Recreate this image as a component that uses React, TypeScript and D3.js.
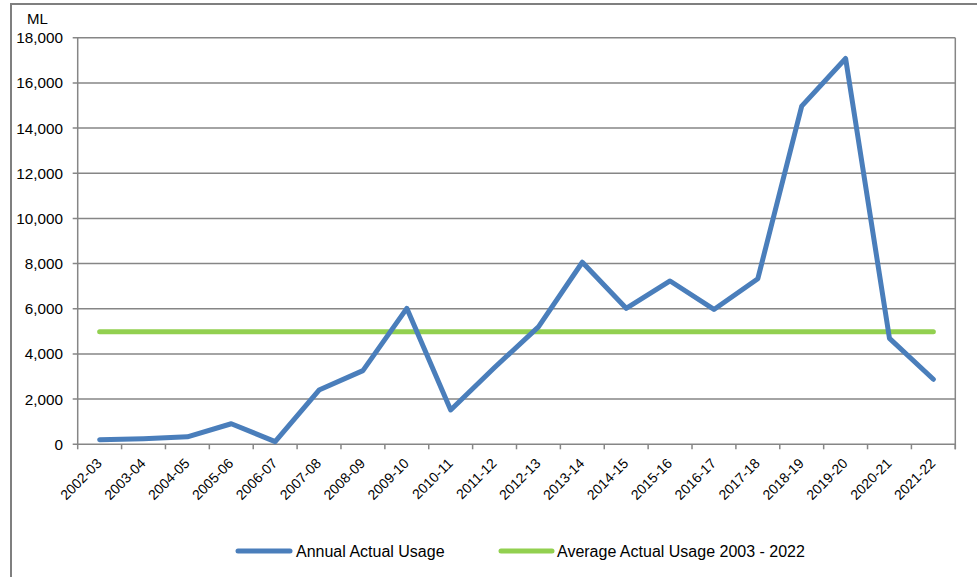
import React from "react";
import * as d3 from "d3";

const categories = ["2002-03","2003-04","2004-05","2005-06","2006-07","2007-08","2008-09","2009-10","2010-11","2011-12","2012-13","2013-14","2014-15","2015-16","2016-17","2017-18","2018-19","2019-20","2020-21","2021-22"];
const annualUsage = [200, 250, 330, 910, 120, 2400, 3260, 6020, 1520, 3400, 5200, 8060, 6020, 7230, 5970, 7330, 14970, 17080, 4690, 2880];
const averageUsage = 4980;
const yTicks = [0, 2000, 4000, 6000, 8000, 10000, 12000, 14000, 16000, 18000];
const seriesNames = ["Annual Actual Usage", "Average Actual Usage 2003 - 2022"];
const colors = ["#4a7ebb", "#92d050"];

const W = 977, H = 577;
const left = 77.7, right = 955.3, top = 37.7, bottom = 444.3;

export default function App() {
  const x = d3.scaleBand<string>().domain(categories).range([left, right]);
  const y = d3.scaleLinear().domain([0, 18000]).range([bottom, top]);
  const cx = (c: string) => (x(c) as number) + x.bandwidth() / 2;
  const line = d3.line<number>().x((_, i) => cx(categories[i])).y(d => y(d));
  const avgLine = d3.line<string>().x(c => cx(c)).y(() => y(averageUsage));
  const font = "Liberation Sans, Arial, sans-serif";
  const grid = "#868686";
  const boundaries = d3.range(categories.length + 1).map(i => left + i * x.step());
  return (
    <svg width={W} height={H} style={{ position: "absolute", left: 0, top: 0 }} fontFamily={font}>
      <rect x={0} y={0} width={W} height={H} fill="#fff" />
      <rect x={11} y={4} width={W + 20} height={H + 20} fill="none" stroke="#7f7f7f" strokeWidth={2} />
      {yTicks.map(t => (
        <g key={t}>
          <line x1={left - 5} x2={right} y1={y(t)} y2={y(t)} stroke={grid} strokeWidth={1.5} />
          <text x={63} y={y(t)} dy="0.36em" textAnchor="end" fontSize={15.3} fill="#000">{d3.format(",")(t)}</text>
        </g>
      ))}
      <line x1={left} x2={left} y1={top} y2={bottom} stroke={grid} strokeWidth={1.5} />
      <line x1={right} x2={right} y1={top} y2={bottom + 5} stroke={grid} strokeWidth={1.5} />
      {boundaries.map((b, i) => (
        <line key={i} x1={b} x2={b} y1={bottom} y2={bottom + 5} stroke={grid} strokeWidth={1.5} />
      ))}
      <text x={27} y={24} fontSize={15} fill="#000">ML</text>
      {categories.map(c => (
        <text key={c} transform={`translate(${cx(c) + 3},${bottom + 20}) rotate(-45)`} textAnchor="end" fontSize={14} fill="#000">{c}</text>
      ))}
      <path d={avgLine(categories) as string} fill="none" stroke={colors[1]} strokeWidth={5} strokeLinecap="round" />
      <path d={line(annualUsage) as string} fill="none" stroke={colors[0]} strokeWidth={5} strokeLinecap="round" strokeLinejoin="round" />
      <line x1={238} x2={290} y1={551} y2={551} stroke={colors[0]} strokeWidth={5} strokeLinecap="round" />
      <text x={296} y={551} dy="0.36em" fontSize={16} fill="#000">{seriesNames[0]}</text>
      <line x1={501} x2={552} y1={551} y2={551} stroke={colors[1]} strokeWidth={5} strokeLinecap="round" />
      <text x={557} y={551} dy="0.36em" fontSize={16} fill="#000">{seriesNames[1]}</text>
    </svg>
  );
}
